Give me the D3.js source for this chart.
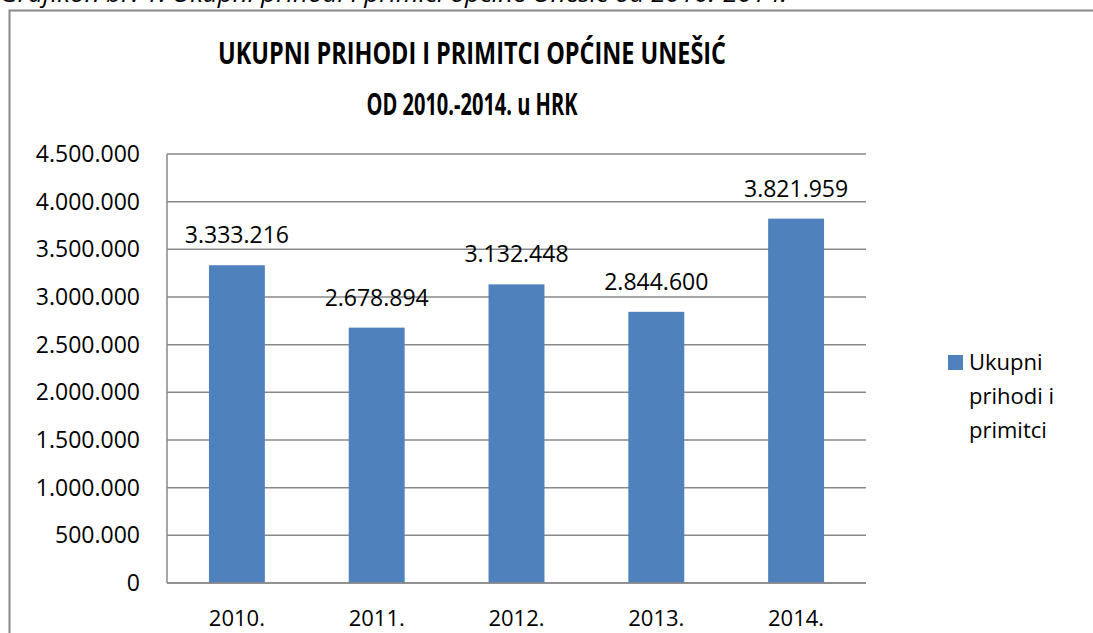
<!DOCTYPE html>
<html lang="hr">
<head>
<meta charset="utf-8">
<title>Ukupni prihodi i primitci</title>
<style>
  body, html { margin: 0; padding: 0; background: #fff; }
  svg { display: block; }
  text { font-family: "Open Sans", sans-serif; fill: #000; }
  .grid line { stroke: #888; stroke-width: 1.5px; }
</style>
<script src="https://d3js.org/d3.v7.min.js"></script>
</head>
<body>
<svg id="chart" width="1093" height="633"></svg>
<script>
var years = ["2010.", "2011.", "2012.", "2013.", "2014."];
var totals = [3333216, 2678894, 3132448, 2844600, 3821959];
var yTicks = [0, 500000, 1000000, 1500000, 2000000, 2500000, 3000000, 3500000, 4000000, 4500000];
var titleLines = ["UKUPNI PRIHODI I PRIMITCI OPĆINE UNEŠIĆ", "OD 2010.-2014. u HRK"];
var legendLines = ["Ukupni", "prihodi i", "primitci"];
var caption = "Grafikon br. 1: Ukupni prihodi i primici općine Unešić od 2010.-2014.";

var svg = d3.select("#chart");
var barColor = "#4f81bd";

// plot area
var plotL = 167, plotR = 866, plotT = 154, plotB = 583;

// number format 3.333.216
var fmt = function(v) {
    return d3.format(",")(v).replace(/,/g, ".");
};

// caption cut off by the page edge
svg.append("text")
    .attr("x", 0)
    .attr("y", 2)
    .attr("textLength", 787)
    .attr("lengthAdjust", "spacingAndGlyphs")
    .style("font-style", "italic")
    .style("font-size", "24px")
    .text(caption);

// outer frame (only top and left edge visible)
svg.append("path")
    .attr("d", "M9.5,633 V10.5 H1093")
    .attr("fill", "none")
    .attr("stroke", "#888")
    .attr("stroke-width", 2);

var x = d3.scaleBand()
    .domain(years)
    .range([plotL, plotR])
    .paddingInner(0.6)
    .paddingOuter(0.3);

var y = d3.scaleLinear()
    .domain([0, 4500000])
    .range([plotB, plotT]);

// gridlines
svg.append("g")
    .attr("class", "grid")
    .selectAll("line")
    .data(yTicks)
    .enter().append("line")
    .attr("x1", plotL)
    .attr("x2", plotR)
    .attr("y1", function(d) { return y(d); })
    .attr("y2", function(d) { return y(d); });

// bars
svg.append("g")
    .selectAll("rect")
    .data(totals)
    .enter().append("rect")
    .attr("x", function(d, i) { return x(years[i]); })
    .attr("width", x.bandwidth())
    .attr("y", function(d) { return y(d); })
    .attr("height", function(d) { return plotB - y(d); })
    .attr("fill", barColor);

// axis lines
svg.append("line")
    .attr("x1", plotL).attr("x2", plotL)
    .attr("y1", plotT).attr("y2", plotB)
    .attr("stroke", "#888").attr("stroke-width", 1.5);
svg.append("line")
    .attr("x1", plotL).attr("x2", plotR)
    .attr("y1", plotB).attr("y2", plotB)
    .attr("stroke", "#888").attr("stroke-width", 1.5);

// y tick labels
svg.append("g")
    .selectAll("text")
    .data(yTicks)
    .enter().append("text")
    .attr("x", 140)
    .attr("y", function(d) { return y(d) + 8; })
    .attr("text-anchor", "end")
    .style("font-size", "23px")
    .text(fmt);

// x labels
svg.append("g")
    .selectAll("text")
    .data(years)
    .enter().append("text")
    .attr("x", function(d) { return x(d) + x.bandwidth() / 2; })
    .attr("y", 626)
    .attr("text-anchor", "middle")
    .style("font-size", "22px")
    .text(function(d) { return d; });

// value labels
svg.append("g")
    .selectAll("text")
    .data(totals)
    .enter().append("text")
    .attr("x", function(d, i) { return x(years[i]) + x.bandwidth() / 2; })
    .attr("y", function(d) { return y(d) - 22; })
    .attr("text-anchor", "middle")
    .style("font-size", "23px")
    .text(fmt);

// title (Calibri-like width, squeezed)
var titleWidths = [508, 211];
svg.append("g")
    .selectAll("text")
    .data(titleLines)
    .enter().append("text")
    .attr("x", 472)
    .attr("y", function(d, i) { return 64 + i * 51; })
    .attr("text-anchor", "middle")
    .attr("textLength", function(d, i) { return titleWidths[i]; })
    .attr("lengthAdjust", "spacingAndGlyphs")
    .style("font-size", "31px")
    .style("font-weight", "bold")
    .text(function(d) { return d; });

// legend
svg.append("rect")
    .attr("x", 948).attr("y", 355)
    .attr("width", 15).attr("height", 15)
    .attr("fill", barColor);
svg.append("g")
    .selectAll("text")
    .data(legendLines)
    .enter().append("text")
    .attr("x", 969)
    .attr("y", function(d, i) { return 370 + i * 34; })
    .style("font-size", "22px")
    .text(function(d) { return d; });
</script>
</body>
</html>
